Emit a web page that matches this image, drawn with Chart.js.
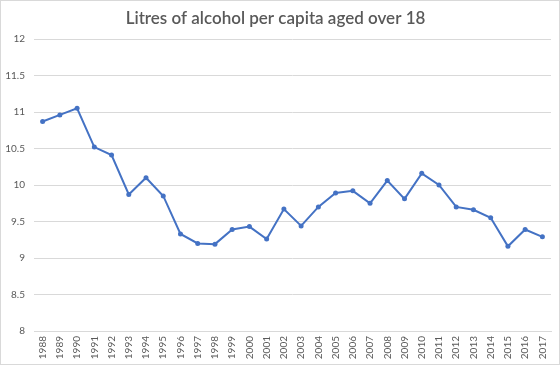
<!DOCTYPE html>
<html>
<head>
<meta charset="utf-8">
<script src="https://cdn.jsdelivr.net/npm/chart.js@4/dist/chart.umd.min.js"></script>
<style>
  html, body { margin: 0; padding: 0; background: #fff; }
  #wrap { width: 560px; height: 365px; position: relative; }
</style>
</head>
<body>
<div id="wrap"><canvas id="alcoholChart"></canvas></div>
<script>
var years = ['1988', '1989', '1990', '1991', '1992', '1993', '1994', '1995', '1996', '1997',
  '1998', '1999', '2000', '2001', '2002', '2003', '2004', '2005', '2006', '2007',
  '2008', '2009', '2010', '2011', '2012', '2013', '2014', '2015', '2016', '2017'];
var litres = [10.87, 10.96, 11.05, 10.52, 10.41, 9.87, 10.10, 9.85, 9.33, 9.20,
  9.19, 9.39, 9.43, 9.26, 9.67, 9.44, 9.70, 9.89, 9.92, 9.75,
  10.06, 9.81, 10.16, 10.00, 9.70, 9.66, 9.55, 9.16, 9.39, 9.29];
var yTicks = [8, 8.5, 9, 9.5, 10, 10.5, 11, 11.5, 12];

var textGrey = '#595959';
var lineBlue = '#4472C4';

//light frame round the chart area, like the spreadsheet chart box
var framePlugin = {
  id: 'frame',
  afterDraw: function(chart) {
    var ctx = chart.ctx;
    ctx.save();
    ctx.strokeStyle = '#d9d9d9';
    ctx.lineWidth = 1;
    ctx.strokeRect(0.5, 0.5, chart.width - 1, chart.height - 1);
    ctx.restore();
  }
};

new Chart(document.getElementById('alcoholChart'), {
  type: 'line',
  data: {
    labels: years,
    datasets: [{
      label: 'Litres per capita',
      data: litres,
      borderColor: lineBlue,
      backgroundColor: lineBlue,
      borderWidth: 2,
      pointRadius: 2.5,
      pointBorderWidth: 0,
      tension: 0
    }]
  },
  options: {
    responsive: true,
    maintainAspectRatio: false,
    animation: false,
    layout: { padding: { left: 0, right: 9, top: 0, bottom: 0 } },
    plugins: {
      legend: { display: false },
      tooltip: { enabled: false },
      title: {
        display: true,
        text: 'Litres of alcohol per capita aged over 18',
        color: textGrey,
        font: { family: 'Lato', size: 17, weight: '600', lineHeight: 1.2 },
        padding: { top: 8, bottom: 10.6 }
      }
    },
    scales: {
      x: {
        offset: true,
        grid: { display: false, drawTicks: false },
        border: { display: true, color: '#d9d9d9' },
        ticks: {
          color: textGrey,
          font: { family: 'Lato', size: 10 },
          minRotation: 90,
          maxRotation: 90,
          autoSkip: false,
          padding: 5
        },
        afterFit: function(scale) { scale.height = 34; }
      },
      y: {
        min: 8,
        max: 12,
        afterBuildTicks: function(scale) {
          scale.ticks = yTicks.map(function(v) { return { value: v }; });
        },
        grid: { color: '#d9d9d9', drawTicks: false },
        border: { display: false },
        ticks: {
          color: textGrey,
          font: { family: 'Lato', size: 10 },
          padding: 9,
          callback: function(value) { return String(value); }
        },
        afterFit: function(scale) { scale.width = 34; }
      }
    }
  },
  plugins: [framePlugin]
});
</script>
</body>
</html>
